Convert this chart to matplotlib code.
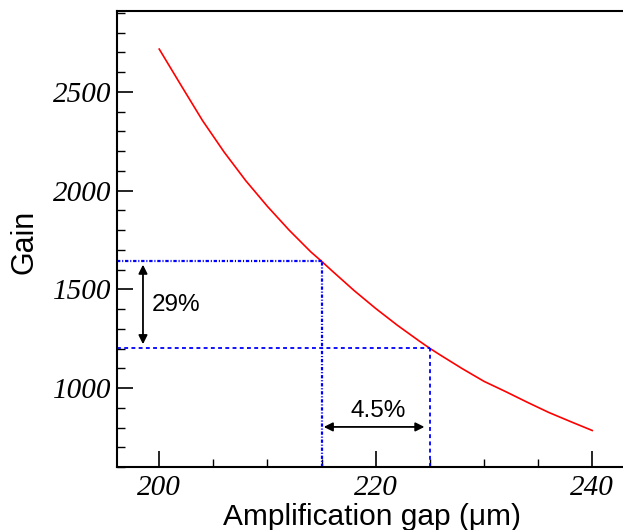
import matplotlib
matplotlib.use("Agg")
import matplotlib.pyplot as plt
from matplotlib.ticker import MultipleLocator, FixedLocator

plt.rcParams['lines.scale_dashes'] = False

# Data
gap = [200, 202, 204, 206, 208, 210, 212, 214, 215, 216, 218, 220, 222, 224, 225,
       226, 228, 230, 232, 234, 236, 238, 240]
gain = [2717, 2535, 2355, 2195, 2050, 1920, 1800, 1690, 1642, 1592, 1494, 1403,
        1318, 1239, 1201, 1166, 1098, 1034, 982, 928, 876, 830, 785]

gap_ref = [215, 225]
gain_ref = [1642, 1201]
label_gain = "29%"
label_gap = "4.5%"

xticks_major = [200, 220, 240]
yticks_major = [1000, 1500, 2000, 2500]

W, H = 623, 530
fig = plt.figure(figsize=(W / 100, H / 100), dpi=100)

xmin, xmax = 196.1, 244.0
ymin, ymax = 600, 2910
px_per_x = 10.825
left_px, top_px, bottom_px = 117, 11, 467
right_px = left_px + (xmax - xmin) * px_per_x
ax = fig.add_axes([left_px / W, (H - bottom_px) / H,
                   (right_px - left_px) / W, (bottom_px - top_px) / H])
ax.set_xlim(xmin, xmax)
ax.set_ylim(ymin, ymax)

ax.plot(gap, gain, color='red', lw=1.2, solid_joinstyle='round')

blue = (0, 0, 1)
dashdot = (0, (2.4, 1.3, 0.8, 1.3))
dashed = (0, (2.8, 2.4))
# upper reference (dash-dot)
ax.plot([xmin, gap_ref[0]], [gain_ref[0], gain_ref[0]], color=blue, lw=1.6, ls=dashdot)
ax.plot([gap_ref[0], gap_ref[0]], [ymin, gain_ref[0]], color=blue, lw=1.6, ls=dashdot)
# lower reference (dashed)
ax.plot([xmin, gap_ref[1]], [gain_ref[1], gain_ref[1]], color=blue, lw=1.3, ls=dashed)
ax.plot([gap_ref[1], gap_ref[1]], [ymin, gain_ref[1]], color=blue, lw=1.3, ls=dashed)

arrowprops = dict(arrowstyle='<|-|>', color='black', lw=1.3, mutation_scale=13,
                  shrinkA=0, shrinkB=0)
ax.annotate('', xy=(198.5, 1222), xytext=(198.5, 1625), arrowprops=arrowprops)
ax.annotate('', xy=(224.5, 803), xytext=(215.2, 803), arrowprops=arrowprops)
ax.text(199.3, 1420, label_gain, fontsize=17.5, family='Liberation Sans',
        ha='left', va='center')
ax.text(220.2, 886, label_gap, fontsize=17.5, family='Liberation Sans',
        ha='center', va='center')

for s in ['left', 'top', 'bottom']:
    ax.spines[s].set_linewidth(1.5)
ax.spines['right'].set_visible(False)

ax.xaxis.set_major_locator(FixedLocator(xticks_major))
ax.xaxis.set_minor_locator(MultipleLocator(5))
ax.yaxis.set_major_locator(FixedLocator(yticks_major))
ax.yaxis.set_minor_locator(MultipleLocator(100))
ax.tick_params(which='both', direction='in', top=False, right=False, width=1.2)
ax.tick_params(which='major', length=11.5)
ax.tick_params(which='minor', length=5.8, width=1.0)
ax.tick_params(axis='y', which='major', pad=4)
ax.tick_params(axis='x', which='major', pad=6)
for lab in ax.get_xticklabels() + ax.get_yticklabels():
    lab.set_family('Liberation Serif')
    lab.set_style('italic')
    lab.set_fontsize(21)

fig.text(372 / W, (H - 525) / H, 'Amplification gap (μm)', fontsize=21.5,
         family='Liberation Sans', ha='center', va='baseline')
fig.text(24 / W, (H - 242) / H, 'Gain', fontsize=22, family='Liberation Sans',
         rotation=90, ha='center', va='center')

fig.savefig('out.png', dpi=100)
